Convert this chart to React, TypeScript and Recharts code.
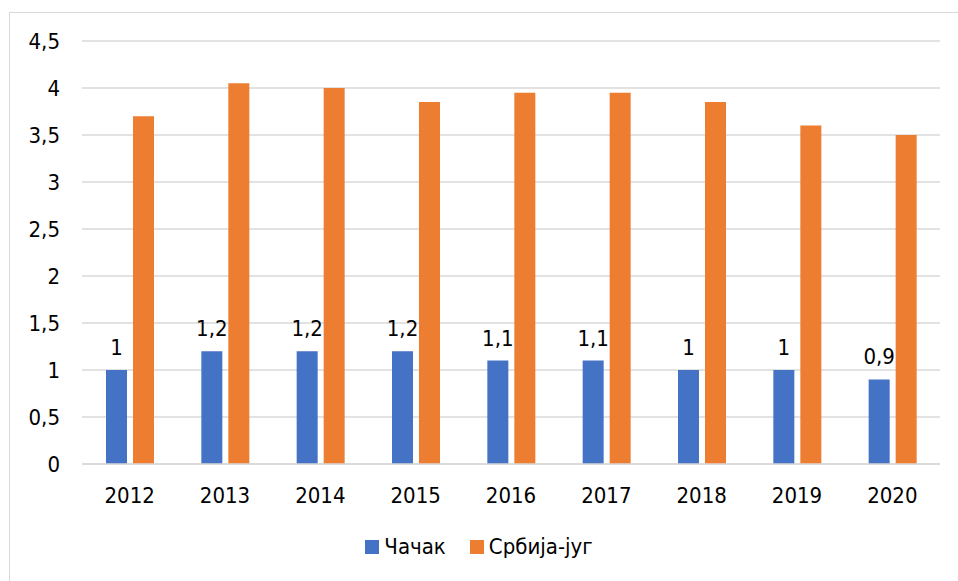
import type { ReactElement } from 'react'
import { Bar, BarChart, CartesianGrid, LabelList, XAxis, YAxis } from 'recharts'

const years = ['2012', '2013', '2014', '2015', '2016', '2017', '2018', '2019', '2020']
const cacak = [1, 1.2, 1.2, 1.2, 1.1, 1.1, 1, 1, 0.9]
const srbijaJug = [3.7, 4.05, 4, 3.85, 3.95, 3.95, 3.85, 3.6, 3.5]
const yTicks = [0, 0.5, 1, 1.5, 2, 2.5, 3, 3.5, 4, 4.5]

const SERIES = [
  { key: 'cacak', name: 'Чачак', color: '#4472C4' },
  { key: 'srbija', name: 'Србија-југ', color: '#ED7D31' }
]

const data = years.map((year, i) => ({ year, cacak: cacak[i], srbija: srbijaJug[i] }))

const FONT = "'DejaVu Sans Condensed', 'Noto Sans', sans-serif"
const FONT_SIZE = 22
const TEXT = '#000000'
const GRID = '#d9d9d9'

const comma = (v: number | string) => String(v).replace('.', ',')

export default function App(): ReactElement {
  return (
    <div style={{ position: 'absolute', left: 0, top: 0, width: 958, height: 581, overflow: 'hidden', background: '#fff', fontFamily: FONT }}>
      <div style={{ position: 'absolute', left: 9, top: 12, width: 960, height: 580, border: `1px solid ${GRID}`, boxSizing: 'border-box' }} />
      <div style={{ position: 'absolute', left: 0, top: 0 }}>
        <BarChart
          width={958}
          height={581}
          data={data}
          margin={{ top: 41, right: 18, bottom: 117 - 40, left: 0 }}
          barSize={21}
          barGap={6}
        >
          <CartesianGrid vertical={false} stroke={GRID} strokeWidth={1.3} />
          <XAxis
            dataKey="year"
            height={40}
            axisLine={{ stroke: GRID, strokeWidth: 1.3 }}
            tickLine={false}
            tickMargin={17}
            tick={{ fill: TEXT, fontSize: FONT_SIZE, fontFamily: FONT }}
          />
          <YAxis
            width={82}
            domain={[0, 4.5]}
            ticks={yTicks}
            axisLine={false}
            tickLine={false}
            tickMargin={16}
            tickFormatter={comma}
            tick={{ fill: TEXT, fontSize: FONT_SIZE, fontFamily: FONT }}
          />
          {SERIES.map((s) => (
            <Bar key={s.key} dataKey={s.key} name={s.name} fill={s.color} isAnimationActive={false}>
              {s.key === 'cacak' && (
                <LabelList
                  dataKey={s.key}
                  position="top"
                  offset={15}
                  formatter={(v: number) => comma(v)}
                  style={{ fill: TEXT, fontSize: FONT_SIZE, fontFamily: FONT }}
                />
              )}
            </Bar>
          ))}
        </BarChart>
      </div>
      <div style={{ position: 'absolute', left: 0, top: 534, width: 958, display: 'flex', justifyContent: 'center', gap: 24, fontSize: FONT_SIZE, color: TEXT }}>
        {SERIES.map((s) => (
          <span key={s.key} style={{ display: 'inline-flex', alignItems: 'center', gap: 5 }}>
            <span style={{ width: 14, height: 14, background: s.color, display: 'inline-block' }} />
            <span>{s.name}</span>
          </span>
        ))}
      </div>
    </div>
  )
}
